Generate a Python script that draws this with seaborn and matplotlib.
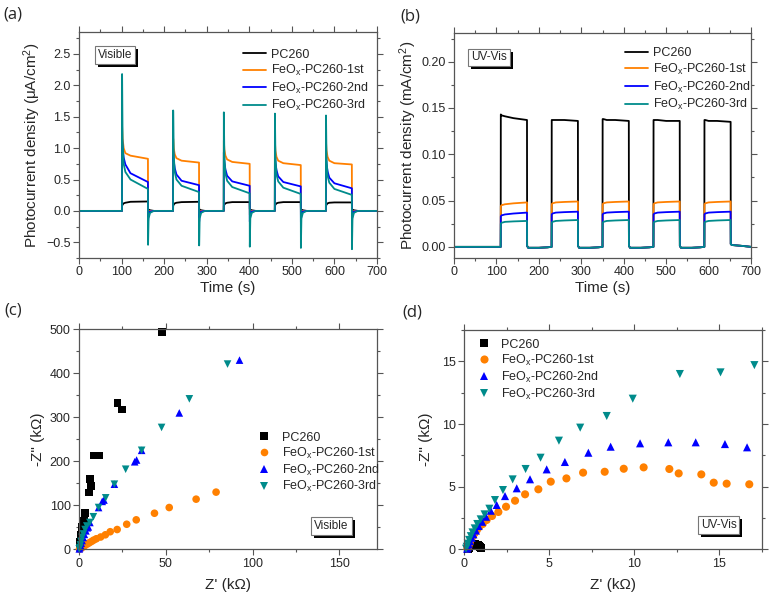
import matplotlib.pyplot as plt
import matplotlib.patches as mpatches
import matplotlib.transforms as mtransforms
import pandas as pd
import seaborn as sns
from matplotlib.ticker import MultipleLocator

# ---- shared series info ----
LABELS = ["PC260", "FeO$_x$-PC260-1st", "FeO$_x$-PC260-2nd", "FeO$_x$-PC260-3rd"]
COLORS = ["#000000", "#FF8000", "#0000FF", "#008B8B"]
MARKERS = ["s", "o", "^", "v"]

# ---- (a) visible-light chopped photocurrent, uA/cm2 ----
VIS_ON = [101, 221, 340, 460, 580]
VIS_REL = [0, 0.3, 1.5, 4, 8, 20, 61, 61.3, 62.5, 66, 75]
VIS_PC260 = [
    [0, 0.08, 0.10, 0.12, 0.13, 0.145, 0.15, 0.03, 0.02, 0.01, 0.0],
    [0, 0.08, 0.10, 0.12, 0.13, 0.14, 0.145, 0.03, 0.02, 0.01, 0.0],
    [0, 0.08, 0.10, 0.12, 0.13, 0.14, 0.14, 0.03, 0.02, 0.01, 0.0],
    [0, 0.08, 0.10, 0.12, 0.13, 0.14, 0.14, 0.03, 0.02, 0.01, 0.0],
    [0, 0.08, 0.10, 0.12, 0.13, 0.135, 0.135, 0.03, 0.02, 0.01, 0.0],
]
VIS_1ST = [
    [0, 1.35, 1.15, 1.00, 0.92, 0.88, 0.83, -0.06, -0.02, 0.0, 0.0],
    [0, 1.15, 1.00, 0.90, 0.84, 0.80, 0.77, -0.06, -0.02, 0.0, 0.0],
    [0, 1.12, 0.98, 0.88, 0.82, 0.78, 0.75, -0.06, -0.02, 0.0, 0.0],
    [0, 1.10, 0.96, 0.86, 0.80, 0.76, 0.73, -0.06, -0.02, 0.0, 0.0],
    [0, 1.10, 0.96, 0.86, 0.80, 0.76, 0.74, -0.06, -0.02, 0.0, 0.0],
]
VIS_2ND = [
    [0, 1.15, 1.00, 0.85, 0.74, 0.60, 0.46, -0.17, -0.05, -0.01, 0.0],
    [0, 0.95, 0.80, 0.68, 0.58, 0.48, 0.41, -0.17, -0.05, -0.01, 0.0],
    [0, 0.93, 0.78, 0.66, 0.56, 0.47, 0.40, -0.17, -0.05, -0.01, 0.0],
    [0, 0.92, 0.77, 0.65, 0.55, 0.46, 0.39, -0.18, -0.05, -0.01, 0.0],
    [0, 0.90, 0.75, 0.63, 0.53, 0.44, 0.36, -0.18, -0.05, -0.01, 0.0],
]
VIS_3RD = [
    [0, 2.18, 1.10, 0.75, 0.62, 0.50, 0.35, -0.54, -0.12, -0.03, 0.0],
    [0, 1.60, 0.90, 0.62, 0.50, 0.40, 0.30, -0.55, -0.12, -0.03, 0.0],
    [0, 1.57, 0.88, 0.60, 0.48, 0.38, 0.28, -0.57, -0.12, -0.03, 0.0],
    [0, 1.55, 0.86, 0.58, 0.47, 0.37, 0.27, -0.59, -0.12, -0.03, 0.0],
    [0, 1.52, 0.84, 0.56, 0.45, 0.35, 0.255, -0.61, -0.12, -0.03, 0.0],
]

# ---- (b) UV-Vis chopped photocurrent, mA/cm2 ----
UV_ON = [110, 230, 350, 470, 590]
UV_REL = [0, 0.3, 2, 10, 30, 62, 62.3, 65, 90, 110]
UV_PC260 = [
    [0, 0.143, 0.142, 0.141, 0.139, 0.137, 0.001, -0.001, -0.001, -0.0005],
    [0, 0.137, 0.137, 0.137, 0.137, 0.136, 0.001, -0.001, -0.001, -0.0005],
    [0, 0.138, 0.138, 0.137, 0.137, 0.136, 0.001, -0.001, -0.001, -0.0005],
    [0, 0.137, 0.137, 0.137, 0.136, 0.136, 0.001, -0.001, -0.001, -0.0005],
    [0, 0.137, 0.137, 0.136, 0.136, 0.135, 0.003, 0.002, 0.001, 0.0],
]
UV_1ST = [
    [0, 0.044, 0.045, 0.046, 0.047, 0.048, 0.001, -0.001, -0.001, -0.0005],
    [0, 0.046, 0.047, 0.048, 0.0485, 0.049, 0.001, -0.001, -0.001, -0.0005],
    [0, 0.046, 0.047, 0.048, 0.0485, 0.049, 0.001, -0.001, -0.001, -0.0005],
    [0, 0.046, 0.047, 0.048, 0.0485, 0.049, 0.001, -0.001, -0.001, -0.0005],
    [0, 0.046, 0.047, 0.048, 0.0485, 0.049, 0.003, 0.002, 0.001, 0.0],
]
UV_2ND = [
    [0, 0.033, 0.034, 0.035, 0.036, 0.037, 0.001, -0.001, -0.001, -0.0005],
    [0, 0.035, 0.036, 0.037, 0.0375, 0.038, 0.001, -0.001, -0.001, -0.0005],
    [0, 0.035, 0.036, 0.037, 0.0375, 0.038, 0.001, -0.001, -0.001, -0.0005],
    [0, 0.035, 0.036, 0.037, 0.0375, 0.038, 0.001, -0.001, -0.001, -0.0005],
    [0, 0.035, 0.036, 0.037, 0.0375, 0.038, 0.003, 0.002, 0.001, 0.0],
]
UV_3RD = [
    [0, 0.025, 0.026, 0.027, 0.0275, 0.028, 0.001, -0.001, -0.001, -0.0005],
    [0, 0.026, 0.027, 0.028, 0.0285, 0.029, 0.001, -0.001, -0.001, -0.0005],
    [0, 0.026, 0.027, 0.028, 0.0285, 0.029, 0.001, -0.001, -0.001, -0.0005],
    [0, 0.026, 0.027, 0.028, 0.0285, 0.029, 0.001, -0.001, -0.001, -0.0005],
    [0, 0.026, 0.027, 0.028, 0.0285, 0.029, 0.003, 0.002, 0.001, 0.0],
]

# ---- (c) Nyquist, visible (kOhm) ----
C_PC260_X = [0.2, 0.4, 0.6, 0.9, 1.1, 1.4, 1.9, 2.9, 3.5, 5.9, 6.9, 6.5, 8.6, 11.9, 22.3, 24.8, 48.0]
C_PC260_Y = [4, 10, 17, 25, 33, 42, 51, 65, 82, 129, 144, 160, 213, 213, 332, 318, 494]
C_1ST_X = [0.3, 0.8, 1.5, 2.5, 3.5, 4.8, 6.0, 7.3, 8.5, 10.0, 12.5, 15.2, 18.0, 22.0, 27.5, 33.0, 43.5, 52.0, 67.5, 79.0]
C_1ST_Y = [0.5, 2, 3.5, 6, 9, 12, 15, 18, 21, 24, 28, 33, 40, 45, 57, 67, 82, 95, 114, 130]
C_2ND_X = [0.2, 0.5, 0.9, 1.3, 1.8, 2.4, 3.1, 4.0, 4.8, 5.4, 6.3, 11.3, 13.4, 14.4, 20.4, 32.1, 33.2, 36.1, 57.8, 92.5]
C_2ND_Y = [1, 4, 9, 14, 20, 27, 34, 42, 49, 51, 61, 95, 109, 112, 148, 199, 203, 225, 310, 430]
C_3RD_X = [0.15, 0.4, 0.8, 1.2, 1.8, 2.5, 3.5, 4.5, 6.3, 8.3, 11.3, 15.4, 20.4, 26.9, 36.1, 47.6, 63.6, 85.6]
C_3RD_Y = [1, 4, 10, 18, 27, 35, 45, 53, 61, 74, 95, 117, 148, 182, 225, 277, 342, 421]

# ---- (d) Nyquist, UV-Vis (kOhm) ----
D_PC260_X = [0.22, 0.27, 0.33, 0.40, 0.48, 0.56, 0.64, 0.72, 0.80, 0.87, 0.93, 0.98]
D_PC260_Y = [0.03, 0.14, 0.24, 0.31, 0.36, 0.39, 0.39, 0.37, 0.32, 0.25, 0.17, 0.08]
D_1ST_X = [0.2, 0.26, 0.33, 0.42, 0.52, 0.63, 0.76, 0.9, 1.1, 1.33, 1.65, 2.02, 2.47, 3.0,
           3.59, 4.37, 5.1, 6.02, 7.0, 8.27, 9.39, 10.56, 12.07, 12.62, 13.95, 14.68, 15.44, 16.77]
D_1ST_Y = [0.05, 0.25, 0.5, 0.8, 1.05, 1.3, 1.55, 1.8, 2.02, 2.34, 2.66, 2.98, 3.4, 3.88,
           4.39, 4.79, 5.4, 5.66, 6.12, 6.19, 6.43, 6.54, 6.41, 6.06, 5.98, 5.32, 5.24, 5.19]
D_2ND_X = [0.18, 0.22, 0.28, 0.35, 0.45, 0.55, 0.7, 0.86, 1.06, 1.29, 1.57, 1.92, 2.41, 3.1,
           3.88, 4.86, 5.93, 7.31, 8.62, 10.35, 12.01, 13.62, 15.34, 16.64]
D_2ND_Y = [0.05, 0.2, 0.4, 0.65, 0.92, 1.2, 1.5, 1.86, 2.2, 2.6, 3.08, 3.54, 4.25, 4.87,
           5.59, 6.38, 6.97, 7.71, 8.19, 8.46, 8.54, 8.54, 8.4, 8.14]
D_3RD_X = [0.12, 0.16, 0.22, 0.3, 0.4, 0.5, 0.63, 0.78, 0.98, 1.21, 1.49, 1.82, 2.29, 2.86,
           3.62, 4.5, 5.58, 6.83, 8.39, 9.92, 12.69, 15.08, 17.07]
D_3RD_Y = [0.05, 0.2, 0.45, 0.75, 1.05, 1.35, 1.67, 2.02, 2.39, 2.79, 3.24, 3.93, 4.73, 5.58,
           6.41, 7.31, 8.67, 9.71, 10.64, 12.02, 13.99, 14.12, 14.7]


def chopped_frame(on_times, rel, series, t_end):
    """Long table of time / current per sample, built from the per-cycle readings."""
    rows = []
    for label, cycles in zip(LABELS, series):
        rows.append((label, 0.0, 0.0))
        for t_on, vals in zip(on_times, cycles):
            for r, v in zip(rel, vals):
                rows.append((label, t_on + r, v))
        rows.append((label, t_end, 0.0))
    return pd.DataFrame(rows, columns=["sample", "time", "j"])


def nyquist_frame(xs, ys):
    rows = []
    for label, x, y in zip(LABELS, xs, ys):
        rows += [(label, a, b) for a, b in zip(x, y)]
    return pd.DataFrame(rows, columns=["sample", "zre", "zim"])


def style_axes(ax, xmaj, ymaj):
    ax.xaxis.set_major_locator(MultipleLocator(xmaj))
    ax.xaxis.set_minor_locator(MultipleLocator(xmaj / 2))
    ax.yaxis.set_major_locator(MultipleLocator(ymaj))
    ax.yaxis.set_minor_locator(MultipleLocator(ymaj / 2))
    ax.tick_params(which="both", direction="out", top=True, right=True,
                   color="#555555", width=0.8, labelsize=9, pad=2)
    ax.tick_params(which="major", length=4)
    ax.tick_params(which="minor", length=2.5)
    for s in ax.spines.values():
        s.set_color("#555555")
        s.set_linewidth(0.9)


tags = []


def tag(ax, text, x, y):
    t = ax.text(x, y, text, transform=ax.transAxes, ha="center", va="center", fontsize=8.5,
                bbox=dict(boxstyle="square,pad=0.25", fc="white", ec="#777777", lw=0.8), zorder=6)
    tags.append(t)


sns.set_style("ticks")
plt.rcParams["font.family"] = ["Liberation Sans", "DejaVu Sans"]
plt.rcParams["mathtext.default"] = "regular"

fig = plt.figure(figsize=(7.69, 5.98), dpi=100)
ax_a = fig.add_axes([0.1027, 0.5686, 0.3875, 0.3779])
ax_b = fig.add_axes([0.5904, 0.5686, 0.3862, 0.3763])
ax_c = fig.add_axes([0.1027, 0.0814, 0.3875, 0.3679])
ax_d = fig.add_axes([0.6034, 0.0814, 0.3871, 0.3667])
palette = dict(zip(LABELS, COLORS))
LEG = dict(frameon=False, fontsize=9, handletextpad=0.4, borderpad=0.2)

# (a)
vis = chopped_frame(VIS_ON, VIS_REL, [VIS_PC260, VIS_1ST, VIS_2ND, VIS_3RD], 700)
sns.lineplot(data=vis, x="time", y="j", hue="sample", hue_order=LABELS, palette=palette,
             estimator=None, sort=False, lw=1.3, ax=ax_a)
ax_a.set_xlim(0, 700)
ax_a.set_ylim(-0.75, 2.85)
style_axes(ax_a, 100, 0.5)
ax_a.set_xlabel("Time (s)", fontsize=11, labelpad=2)
ax_a.set_ylabel("Photocurrent density (\u03bcA/cm$^2$)", fontsize=11, labelpad=2)
h, l = ax_a.get_legend_handles_labels()
ax_a.legend(h, l, loc="upper left", bbox_to_anchor=(0.52, 0.965), handlelength=1.9,
            labelspacing=0.2, **LEG)
tag(ax_a, "Visible", 0.121, 0.898)

# (b)
uv = chopped_frame(UV_ON, UV_REL, [UV_PC260, UV_1ST, UV_2ND, UV_3RD], 700)
sns.lineplot(data=uv, x="time", y="j", hue="sample", hue_order=LABELS, palette=palette,
             estimator=None, sort=False, lw=1.3, ax=ax_b)
ax_b.set_xlim(0, 700)
ax_b.set_ylim(-0.012, 0.231)
style_axes(ax_b, 100, 0.05)
ax_b.set_xlabel("Time (s)", fontsize=11, labelpad=2)
ax_b.set_ylabel("Photocurrent density (mA/cm$^2$)", fontsize=11, labelpad=2)
h, l = ax_b.get_legend_handles_labels()
ax_b.legend(h, l, loc="upper left", bbox_to_anchor=(0.545, 0.975), handlelength=1.9,
            labelspacing=0.2, **LEG)
tag(ax_b, "UV-Vis", 0.118, 0.891)

# (c)
nc = nyquist_frame([C_PC260_X, C_1ST_X, C_2ND_X, C_3RD_X], [C_PC260_Y, C_1ST_Y, C_2ND_Y, C_3RD_Y])
sns.scatterplot(data=nc, x="zre", y="zim", hue="sample", style="sample", hue_order=LABELS,
                style_order=LABELS, palette=palette, markers=dict(zip(LABELS, MARKERS)),
                s=30, linewidth=0, ax=ax_c, clip_on=False)
ax_c.set_xlim(0, 171.7)
ax_c.set_ylim(0, 500)
style_axes(ax_c, 50, 100)
ax_c.set_xlabel("Z' (k\u03a9)", fontsize=11, labelpad=6)
ax_c.set_ylabel('-Z" (k\u03a9)', fontsize=11, labelpad=3)
h, l = ax_c.get_legend_handles_labels()
ax_c.legend(h, l, loc="upper left", bbox_to_anchor=(0.55, 0.575), labelspacing=0.15, **LEG)
tag(ax_c, "Visible", 0.847, 0.104)

# (d)
nd = nyquist_frame([D_PC260_X, D_1ST_X, D_2ND_X, D_3RD_X], [D_PC260_Y, D_1ST_Y, D_2ND_Y, D_3RD_Y])
sns.scatterplot(data=nd, x="zre", y="zim", hue="sample", style="sample", hue_order=LABELS,
                style_order=LABELS, palette=palette, markers=dict(zip(LABELS, MARKERS)),
                s=34, linewidth=0, ax=ax_d, clip_on=False)
ax_d.set_xlim(0, 17.5)
ax_d.set_ylim(0, 17.5)
style_axes(ax_d, 5, 5)
ax_d.set_xlabel("Z' (k\u03a9)", fontsize=11, labelpad=6)
ax_d.set_ylabel('-Z" (k\u03a9)', fontsize=11, labelpad=6)
h, l = ax_d.get_legend_handles_labels()
ax_d.legend(h, l, loc="upper left", bbox_to_anchor=(-0.005, 1.0), labelspacing=0.15, **LEG)
tag(ax_d, "UV-Vis", 0.855, 0.109)

# panel letters
for txt, x, y in [("(a)", 0.004, 0.975), ("(b)", 0.52, 0.973), ("(c)", 0.006, 0.48), ("(d)", 0.523, 0.478)]:
    fig.text(x, y, txt, fontsize=12, family=["Open Sans", "DejaVu Sans"], va="center")

# black drop shadow behind each label box, Origin style
fig.canvas.draw()
for t in tags:
    bb = t.get_bbox_patch().get_window_extent()
    shadow = mpatches.Rectangle((bb.x0 + 3, bb.y0 - 3), bb.width, bb.height, fc="black", ec="none",
                                transform=mtransforms.IdentityTransform(), zorder=5)
    t.axes.add_artist(shadow)

fig.savefig("out.png", dpi=100)
